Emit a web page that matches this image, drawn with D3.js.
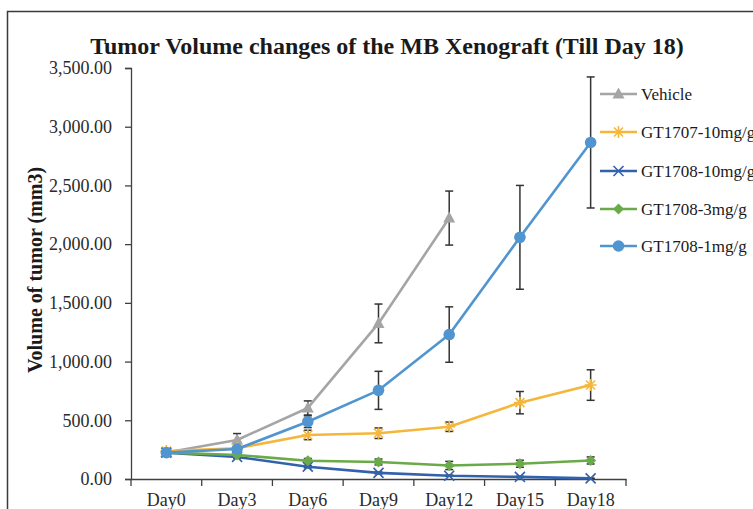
<!DOCTYPE html>
<html>
<head>
<meta charset="utf-8">
<script src="https://cdn.jsdelivr.net/npm/d3@7"></script>
<style>
  html, body { margin: 0; padding: 0; background: #fff; }
  svg { display: block; font-family: "Liberation Serif", "Times New Roman", serif; }
</style>
</head>
<body>
<svg id="chart" width="753" height="509"></svg>
<script>
// Categories (measurement days)
const days = ["Day0", "Day3", "Day6", "Day9", "Day12", "Day15", "Day18"];
const yTicks = [0, 500, 1000, 1500, 2000, 2500, 3000, 3500];

// Mean tumour volume (mm3) and standard error per group
const vehicle      = [225, 332, 605, 1325, 2222];
const vehicleErr   = [15, 55, 60, 165, 230];
const gt1707_10    = [238, 262, 375, 390, 445, 650, 800];
const gt1707_10Err = [20, 15, 40, 45, 40, 95, 130];
const gt1708_10    = [225, 188, 105, 52, 28, 18, 5];
const gt1708_10Err = [10, 10, 10, 8, 5, 5, 3];
const gt1708_3     = [225, 205, 155, 145, 115, 130, 158];
const gt1708_3Err  = [10, 15, 20, 25, 35, 30, 30];
const gt1708_1     = [225, 255, 488, 755, 1230, 2058, 2866];
const gt1708_1Err  = [15, 20, 50, 162, 236, 442, 558];

const series = [
  { name: "Vehicle",         values: vehicle,   err: vehicleErr,   color: "#a5a5a5", marker: "triangle" },
  { name: "GT1707-10mg/g",   values: gt1707_10, err: gt1707_10Err, color: "#f5b73b", marker: "asterisk" },
  { name: "GT1708-10mg/g",   values: gt1708_10, err: gt1708_10Err, color: "#3262ab", marker: "cross" },
  { name: "GT1708-3mg/g",    values: gt1708_3,  err: gt1708_3Err,  color: "#6aaa48", marker: "diamond" },
  { name: "GT1708-1mg/g",    values: gt1708_1,  err: gt1708_1Err,  color: "#5095cf", marker: "circle" }
];

const svg = d3.select("#chart");

// Outer chart frame (runs off the right and bottom edge)
svg.append("path")
  .attr("d", "M7.5,520 L7.5,11.5 L770,11.5")
  .attr("fill", "none").attr("stroke", "#3a3a3a").attr("stroke-width", 1.5);

const plot = { left: 131, right: 626, top: 68, bottom: 479 };

const x = d3.scaleBand().domain(days).range([plot.left, plot.right]);
const y = d3.scaleLinear().domain([0, 3500]).range([plot.bottom, plot.top]);

// Title
svg.append("text")
  .attr("x", 387).attr("y", 54)
  .attr("text-anchor", "middle")
  .attr("font-weight", "bold").attr("font-size", 24).attr("fill", "#1a1a1a")
  .text("Tumor Volume changes of the MB Xenograft (Till Day 18)");

// Y axis
const yAxis = svg.append("g")
  .attr("transform", `translate(${plot.left},0)`)
  .call(d3.axisLeft(y).tickValues(yTicks).tickFormat(d3.format(",.2f")).tickSize(6).tickPadding(13));
yAxis.select(".domain").attr("stroke", "#404040").attr("stroke-width", 1.3);
yAxis.selectAll(".tick line").attr("stroke", "#404040").attr("stroke-width", 1.3);
yAxis.selectAll("text").attr("font-size", 18).attr("fill", "#2a2a2a")
  .attr("font-family", "Liberation Serif, Times New Roman, serif");

// X axis (ticks sit between categories)
const xAxis = svg.append("g")
  .attr("transform", `translate(0,${plot.bottom})`)
  .call(d3.axisBottom(x).tickSize(0).tickPadding(14));
xAxis.select(".domain").attr("stroke", "#404040").attr("stroke-width", 1.3);
xAxis.selectAll("text").attr("font-size", 18).attr("fill", "#2a2a2a")
  .attr("font-family", "Liberation Serif, Times New Roman, serif");
const bounds = days.map(d => x(d)).concat([x(days[days.length - 1]) + x.bandwidth()]);
xAxis.selectAll("line.sep").data(bounds).join("line")
  .attr("class", "sep")
  .attr("x1", d => d).attr("x2", d => d)
  .attr("y1", 0).attr("y2", 7)
  .attr("stroke", "#404040").attr("stroke-width", 1.3);

// Y axis title
svg.append("text")
  .attr("transform", "translate(42,270) rotate(-90)")
  .attr("text-anchor", "middle")
  .attr("font-weight", "bold").attr("font-size", 20).attr("fill", "#1a1a1a")
  .text("Volume of tumor (mm3)");

const cx = i => x(days[i]) + x.bandwidth() / 2;

function drawMarker(g, type, color) {
  switch (type) {
    case "triangle":
      g.append("path").attr("d", "M0,-6.5 L6,4.5 L-6,4.5 Z").attr("fill", color);
      break;
    case "circle":
      g.append("circle").attr("r", 5.8).attr("fill", color);
      break;
    case "diamond":
      g.append("path").attr("d", "M0,-5.5 L5.5,0 L0,5.5 L-5.5,0 Z").attr("fill", color);
      break;
    case "cross":
      g.append("path").attr("d", "M-5,-5 L5,5 M-5,5 L5,-5")
        .attr("stroke", color).attr("stroke-width", 1.6).attr("fill", "none");
      break;
    case "asterisk":
      g.append("path").attr("d", "M-6,0 L6,0 M0,-6 L0,6 M-4.5,-4.5 L4.5,4.5 M-4.5,4.5 L4.5,-4.5")
        .attr("stroke", color).attr("stroke-width", 1.6).attr("fill", "none");
      break;
  }
}

const line = d3.line().x((d, i) => cx(i)).y(d => y(d));

// Error bars with caps
series.forEach(s => {
  const g = svg.append("g");
  s.values.forEach((v, i) => {
    const e = s.err[i];
    const eg = g.append("g").attr("stroke", "#333").attr("stroke-width", 1.5);
    eg.append("line").attr("x1", cx(i)).attr("x2", cx(i)).attr("y1", y(v + e)).attr("y2", y(v - e));
    eg.append("line").attr("x1", cx(i) - 4).attr("x2", cx(i) + 4).attr("y1", y(v + e)).attr("y2", y(v + e));
    eg.append("line").attr("x1", cx(i) - 4).attr("x2", cx(i) + 4).attr("y1", y(v - e)).attr("y2", y(v - e));
  });
});

// Lines and markers
series.forEach(s => {
  svg.append("path")
    .datum(s.values)
    .attr("d", line)
    .attr("fill", "none")
    .attr("stroke", s.color)
    .attr("stroke-width", 2.6)
    .attr("stroke-linejoin", "round");
  s.values.forEach((v, i) => {
    const m = svg.append("g").attr("transform", `translate(${cx(i)},${y(v)})`);
    drawMarker(m, s.marker, s.color);
  });
});

// Legend
const legendY = [94, 132, 171, 209, 246];
series.forEach((s, i) => {
  const lg = svg.append("g").attr("transform", `translate(600,${legendY[i]})`);
  lg.append("line").attr("x1", 0).attr("x2", 37).attr("y1", 0).attr("y2", 0)
    .attr("stroke", s.color).attr("stroke-width", 2.6);
  const m = lg.append("g").attr("transform", "translate(18.5,0)");
  drawMarker(m, s.marker, s.color);
  lg.append("text").attr("x", 41).attr("y", 6)
    .attr("font-size", 17).attr("fill", "#1a1a1a")
    .text(s.name);
});
</script>
</body>
</html>
